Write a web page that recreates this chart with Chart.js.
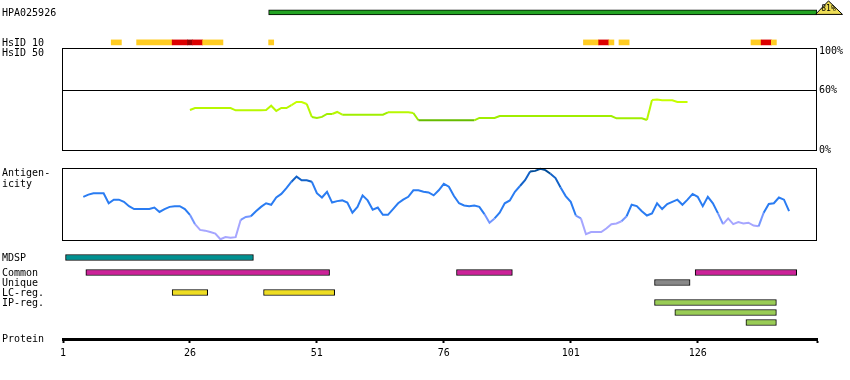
<!DOCTYPE html>
<html>
<head>
<meta charset="utf-8">
<title>HPA025926</title>
<script src="https://cdn.jsdelivr.net/npm/chart.js@4.4.1/dist/chart.umd.min.js"></script>
<style>
  body { margin: 0; background: #fff; }
  #wrap { position: relative; width: 850px; height: 380px; overflow: hidden;
          font: 10px/12px "DejaVu Sans Mono", monospace; color: #000; }
  #wrap canvas { position: absolute; left: 0; }
  .lbl { position: absolute; left: 2px; white-space: pre; }
</style>
</head>
<body>
<div id="wrap">
  <canvas id="top" width="850" height="48" style="top:0"></canvas>
  <canvas id="hsid50" width="850" height="120" style="top:40px"></canvas>
  <canvas id="antigen" width="850" height="90" style="top:160px"></canvas>
  <canvas id="tracks" width="850" height="120" style="top:243px"></canvas>

  <div class="lbl" style="top:7px">HPA025926</div>
  <div class="lbl" style="top:37px">HsID 10</div>
  <div class="lbl" style="top:47px">HsID 50</div>
  <div class="lbl" style="top:167px">Antigen-</div>
  <div class="lbl" style="top:177.5px">icity</div>
  <div class="lbl" style="top:252px">MDSP</div>
  <div class="lbl" style="top:266.5px">Common</div>
  <div class="lbl" style="top:276.5px">Unique</div>
  <div class="lbl" style="top:286.5px">LC-reg.</div>
  <div class="lbl" style="top:296.5px">IP-reg.</div>
  <div class="lbl" style="top:333px">Protein</div>
</div>
<script>
// protein
var proteinLength = 149
var axisTicks = [1, 26, 51, 76, 101, 126]

// antibody coverage
var hpaRange = [42, 149]
var hpaIdentity = 81

// HsID 10 hits: residue ranges and level (1 yellow, 2 red, 3 dark red)
var hsid10Ranges = [[11, 12], [16, 22], [23, 25], [26, 26], [27, 28], [29, 32], [42, 42],
  [104, 106], [107, 108], [109, 109], [111, 112], [137, 138], [139, 140], [141, 141]]
var hsid10Level = [1, 1, 2, 3, 2, 1, 1, 1, 2, 1, 1, 1, 2, 1]

// HsID 50 identity (%), residues 26..124
var hsid50Start = 26
var hsid50 = [
  40.4, 42.4, 42.4, 42.4, 42.4, 42.4, 42.4, 42.4, 42.4,
  40.1, 40.1, 40.1, 40.1, 40.1, 40.1,
  40.4, 44.7, 39.4, 42.4, 42.4, 45.4, 48.5, 48.5, 46.5, 33.4,
  32.4, 33.4, 36.4, 36.4, 38.4,
  35.6, 35.6, 35.6, 35.6, 35.6, 35.6, 35.6, 35.6, 35.6,
  38.0, 38.0, 38.0, 38.0, 38.0, 37.4,
  30.0, 30.0, 30.0, 30.0, 30.0, 30.0, 30.0, 30.0, 30.0, 30.0, 30.0, 30.0,
  32.4, 32.4, 32.4, 32.4,
  34.3, 34.3, 34.3, 34.3, 34.3, 34.3, 34.3, 34.3, 34.3, 34.3, 34.3, 34.3,
  34.3, 34.3, 34.3, 34.3, 34.3, 34.3, 34.3, 34.3, 34.3, 34.3, 34.3,
  32.0, 32.0, 32.0, 32.0, 32.0, 32.0,
  30.3, 50.5, 51.0, 50.2, 50.2, 50.2, 48.5, 48.5, 48.5
]

// antigenicity score (0-100), residues 5..144
var antigenStart = 5
var antigenicity = [
  60, 63, 65, 65, 65, 51, 56, 56, 53, 47,
  43, 43, 43, 43, 45, 39, 43, 46, 47, 47,
  43, 35, 22, 14, 13, 11, 9, 1, 4, 3,
  4, 28, 32, 33, 40, 46, 51, 49, 59, 64,
  72, 81, 88, 83, 83, 81, 65, 59, 67, 52,
  54, 55, 52, 38, 46, 62, 55, 42, 45, 35,
  35, 43, 51, 56, 60, 69, 69, 67, 66, 62,
  69, 78, 74, 61, 51, 48, 47, 48, 46, 36,
  24, 30, 38, 51, 55, 67, 75, 83, 95, 96,
  99, 97, 92, 86, 73, 61, 53, 34, 30, 8,
  11, 11, 11, 16, 22, 23, 26, 33, 49, 47,
  40, 34, 37, 51, 43, 50, 53, 56, 49, 56,
  64, 60, 47, 60, 51, 37, 22, 30, 22, 25,
  23, 24, 20, 19, 38, 50, 51, 59, 56, 40
]

// feature tracks (residue ranges)
var mdsp = [[2, 38]]
var common = [[6, 53], [79, 89], [126, 145]]
var unique = [[118, 124]]
var lcReg = [[23, 29], [41, 54]]
var ipReg = [[118, 141], [122, 141], [136, 141]]

var mono = { family: '"DejaVu Sans Mono", monospace', size: 10 }
var noPlugins = { legend: { display: false }, tooltip: { enabled: false } }

function residueScale() {
  return { type: 'linear', min: 1, max: proteinLength + 0.5, display: false }
}
function span(r) { return [r[0] - 0.5, r[1] + 0.5] }

var framePlugin = {
  id: 'frame',
  afterDraw: function (chart) {
    var a = chart.chartArea, ctx = chart.ctx
    ctx.save()
    ctx.strokeStyle = '#000'
    ctx.lineWidth = 1
    ctx.strokeRect(a.left - 0.5, a.top + 0.5, a.right - a.left, a.bottom - a.top)
    ctx.restore()
  }
}

var identityPlugin = {
  id: 'identity',
  afterDatasetsDraw: function (chart) {
    var ctx = chart.ctx
    var x0 = chart.scales.x.getPixelForValue(hpaRange[1] + 0.5)
    var yb = chart.scales.y.getPixelForValue(0) + 2
    ctx.save()
    ctx.beginPath()
    ctx.moveTo(x0 - 1.5, yb)
    ctx.lineTo(x0 + 11.5, yb - 13.5)
    ctx.lineTo(x0 + 25.5, yb)
    ctx.closePath()
    ctx.fillStyle = '#eedd55'
    ctx.fill()
    ctx.strokeStyle = '#000'
    ctx.lineWidth = 1
    ctx.stroke()
    ctx.fillStyle = '#000'
    ctx.font = '8px "DejaVu Sans Mono", monospace'
    ctx.textAlign = 'center'
    ctx.textBaseline = 'middle'
    ctx.fillText(hpaIdentity + '%', x0 + 11.5, yb - 5)
    ctx.restore()
  }
}

document.addEventListener('DOMContentLoaded', function () {
  // antibody + HsID 10 row
  var hsidColors = ['', '#ffcc22', '#dd0000', '#990000']
  var topBars = [{ x: span(hpaRange), y: 0 }]
  var topColors = ['#22a322']
  var topBorders = [1]
  hsid10Ranges.forEach(function (r, i) {
    topBars.push({ x: span(r), y: 3 })
    topColors.push(hsidColors[hsid10Level[i]])
    topBorders.push(0)
  })
  new Chart(document.getElementById('top'), {
    type: 'bar',
    data: { datasets: [{
      data: topBars, backgroundColor: topColors, borderColor: '#000',
      borderWidth: topBorders, borderSkipped: false, barThickness: 5
    }] },
    options: {
      indexAxis: 'y', responsive: false, animation: false,
      layout: { padding: { left: 63, right: 33, top: 2, bottom: 0 } },
      scales: {
        x: residueScale(),
        y: { type: 'linear', reverse: true, offset: false, min: -1.04, max: 3.56, display: false }
      },
      plugins: noPlugins
    },
    plugins: [identityPlugin]
  })

  // HsID 50 identity
  function idColor(v) {
    return v >= 44 ? '#c6ff00' : v >= 37 ? '#b8f800' : v >= 31 ? '#a0ee00' : '#66bb00'
  }
  new Chart(document.getElementById('hsid50'), {
    type: 'line',
    data: { datasets: [{
      data: hsid50.map(function (v, i) { return { x: hsid50Start + i, y: v } }),
      borderColor: '#b8f800', borderWidth: 2, pointRadius: 0, tension: 0, clip: 3,
      segment: { borderColor: function (c) { return idColor((c.p0.parsed.y + c.p1.parsed.y) / 2) } }
    }] },
    options: {
      responsive: false, animation: false,
      layout: { padding: { left: 63, right: 0, top: 8, bottom: 10 } },
      scales: {
        x: residueScale(),
        y: {
          position: 'right', min: 0, max: 103,
          afterBuildTicks: function (s) { s.ticks = [0, 60, 100].map(function (v) { return { value: v } }) },
          afterFit: function (s) { s.width = 33 },
          grid: { drawTicks: false, lineWidth: 1,
            color: function (c) { return c.tick && c.tick.value === 60 ? '#000' : 'rgba(0,0,0,0)' } },
          border: { display: false },
          ticks: { font: mono, color: '#000', padding: 2, callback: function (v) { return v + '%' } }
        }
      },
      plugins: noPlugins
    },
    plugins: [framePlugin]
  })

  // antigenicity
  function antigenColor(v) {
    return v >= 90 ? '#004c99' : v >= 78 ? '#1262c8' : v >= 34 ? '#2a7cf2' : v >= 27 ? '#7396ff' : '#a6a6ff'
  }
  new Chart(document.getElementById('antigen'), {
    type: 'line',
    data: { datasets: [{
      data: antigenicity.map(function (v, i) { return { x: antigenStart + i, y: v } }),
      borderColor: '#2a7cf2', borderWidth: 2, pointRadius: 0, tension: 0, clip: 3,
      segment: { borderColor: function (c) { return antigenColor((c.p0.parsed.y + c.p1.parsed.y) / 2) } }
    }] },
    options: {
      responsive: false, animation: false,
      layout: { padding: { left: 63, right: 33, top: 8, bottom: 10 } },
      scales: { x: residueScale(), y: { type: 'linear', min: 0, max: 100, display: false } },
      plugins: noPlugins
    },
    plugins: [framePlugin]
  })

  // feature tracks + protein axis
  var bars = [], colors = []
  function addTrack(list, row, color) {
    list.forEach(function (r) { bars.push({ x: span(r), y: row }); colors.push(color) })
  }
  addTrack(mdsp, 0, '#009191')
  addTrack(common, 1.5, '#cc2299')
  addTrack(unique, 2.5, '#888888')
  addTrack(lcReg, 3.5, '#eedd22')
  ipReg.forEach(function (r, i) { addTrack([r], 4.5 + i, '#99cc55') })

  var x = residueScale()
  x.display = true
  x.position = 'bottom'
  x.afterBuildTicks = function (s) {
    s.ticks = axisTicks.concat([proteinLength + 0.5]).map(function (v) { return { value: v } })
  }
  x.ticks = { font: mono, color: '#000', padding: 4, autoSkip: false, maxRotation: 0,
    callback: function (v) { return axisTicks.indexOf(v) >= 0 ? String(v) : '' } }
  x.grid = { drawOnChartArea: false, tickLength: 4, tickWidth: 2, tickColor: '#000' }
  x.border = { color: '#000', width: 3 }

  new Chart(document.getElementById('tracks'), {
    type: 'bar',
    data: { datasets: [{
      data: bars, backgroundColor: colors, borderColor: '#000', borderWidth: 1,
      borderSkipped: false, barThickness: 6
    }] },
    options: {
      indexAxis: 'y', responsive: false, animation: false,
      layout: { padding: { left: 63, right: 33, top: 5, bottom: 0 } },
      scales: {
        x: x,
        y: { type: 'linear', reverse: true, offset: false, min: -0.95, max: 8.15, display: false }
      },
      plugins: noPlugins
    }
  })
})
</script>
</body>
</html>
